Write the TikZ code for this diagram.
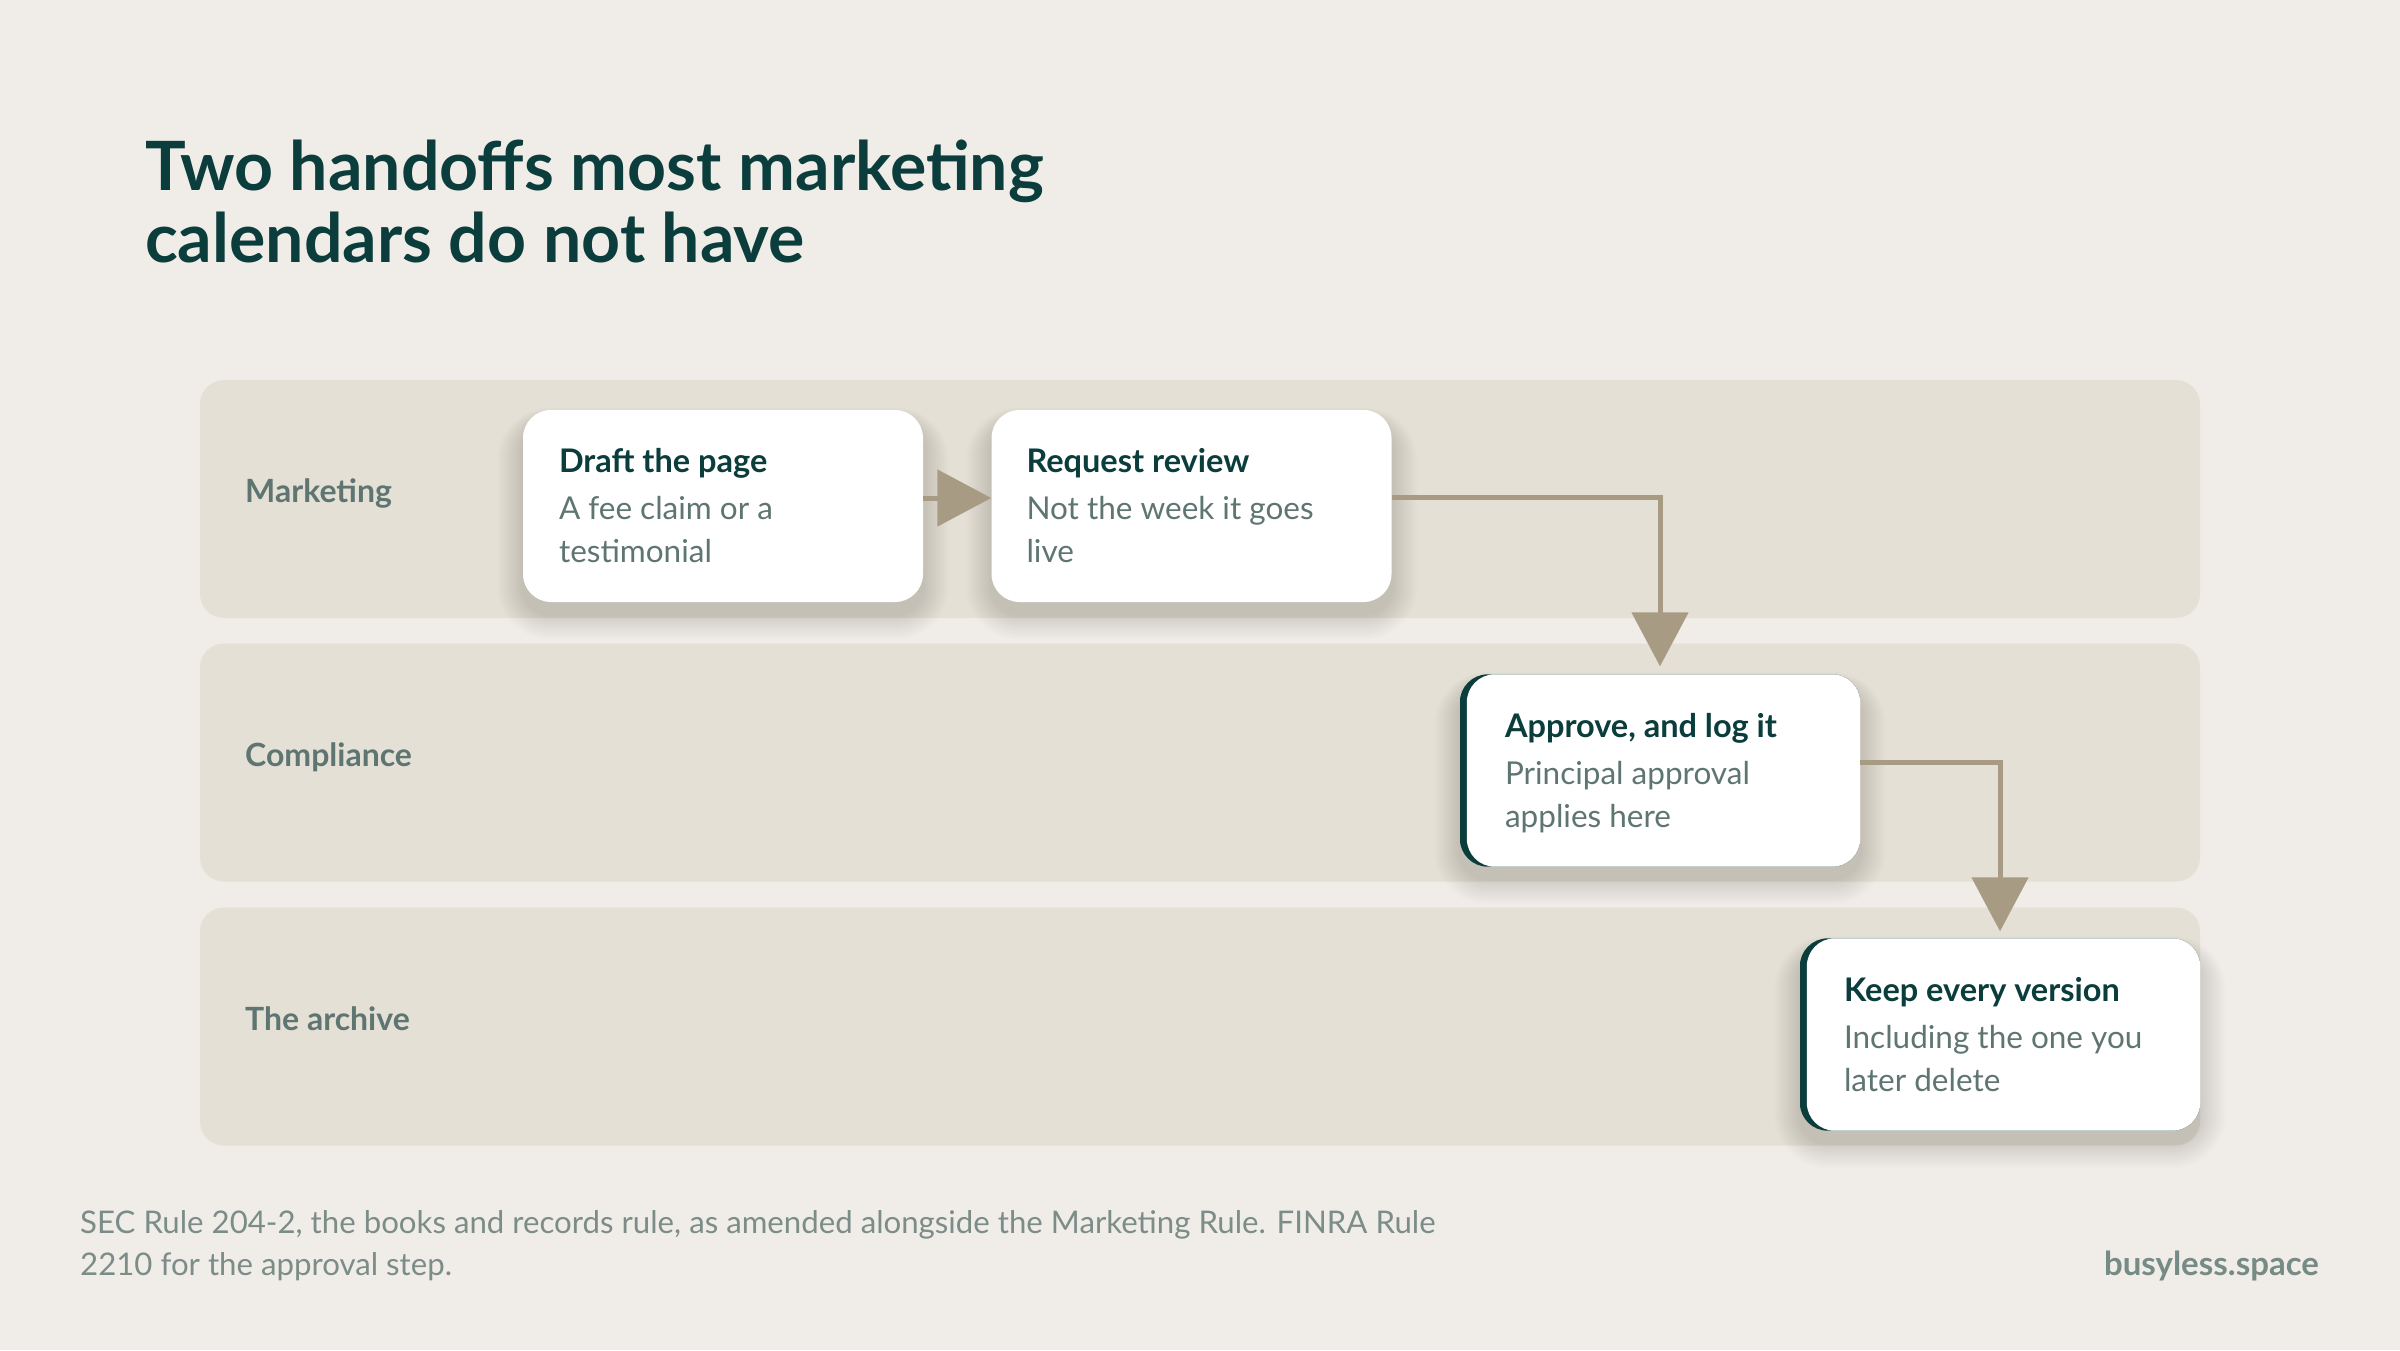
\documentclass[tikz,border=0pt]{standalone}
\usepackage{fontspec}
\setmainfont{Lato}
\usetikzlibrary{arrows.meta,calc}
\definecolor{bgc}{HTML}{F0EDE8}
\definecolor{lanec}{HTML}{E5E0D6}
\definecolor{ink}{HTML}{0A3D3B}
\definecolor{muted}{HTML}{5E7571}
\definecolor{footc}{HTML}{7B8C89}
\definecolor{arrowc}{HTML}{A89B83}
\pgfdeclarelayer{bg}
\pgfdeclarelayer{shadowlayer}
\pgfsetlayers{bg,shadowlayer,main}
\tikzset{
  lane/.style={rectangle, rounded corners=24pt, fill=lanec, minimum width=2000pt, minimum height=238pt, inner sep=0pt},
  lanelabel/.style={anchor=base west, inner sep=0pt, text=muted, font=\fontsize{32}{38}\selectfont\bfseries},
  card/.style={rectangle, rounded corners=28pt, fill=white, minimum width=400pt, minimum height=192pt, inner sep=0pt},
  ctitle/.style={anchor=base west, inner sep=0pt, text=ink, font=\fontsize{32.5}{38}\selectfont\bfseries},
  csub/.style={anchor=base west, inner sep=0pt, text=muted, font=\fontsize{31.5}{38}\selectfont},
  conn/.style={draw=arrowc, line width=5pt, -{Triangle[length=54pt,width=56pt]}},
  headline/.style={anchor=base west, inner sep=0pt, text=ink, font=\fontsize{68}{72}\selectfont\bfseries},
  foot/.style={anchor=base west, inner sep=0pt, text=footc, font=\fontsize{31.2}{36}\selectfont},
}
\newcommand{\softshadow}[1]{%
  \begin{pgfonlayer}{shadowlayer}
  \foreach \i in {1,...,16}{
    \fill[black, opacity=0.007, rounded corners={28pt+1.6*\i pt}]
      ($(#1.north west)+({-1.6*\i},{12-0.9*\i})$) rectangle ($(#1.south east)+({1.6*\i},{12+1.6*\i})$);
  }
  \end{pgfonlayer}}
\begin{document}
\begin{tikzpicture}[x=1pt,y=-1pt]
\begin{pgfonlayer}{bg}
\fill[bgc] (0,0) rectangle (2400,1350);
\end{pgfonlayer}
\useasboundingbox (0,0) rectangle (2400,1350);

% title
\node[headline] (t1) at (145,190) {Two handoffs most marketing};
\node[headline] (t2) at (145,262) {calendars do not have};

% lanes
\begin{pgfonlayer}{bg}
\node[lane] (L1) at (1200,499) {};
\node[lane] (L2) at (1200,762.5) {};
\node[lane] (L3) at (1200,1026.5) {};
\end{pgfonlayer}
\node[lanelabel] (l1) at (245,502) {Marketing};
\node[lanelabel] (l2) at (245,766) {Compliance};
\node[lanelabel] (l3) at (245,1030) {The archive};

% cards
\node[card] (c1) at (723,506) {};
\node[card] (c2) at (1191.5,506) {};
\node[card] (c3) at (1660,770.5) {};
\node[card] (c4) at (2000,1034.5) {};
\softshadow{c1}
\softshadow{c2}
\softshadow{c3}
\softshadow{c4}

% accent borders
\foreach \c in {c3,c4}{
  \begin{scope}
    \clip[rounded corners=28pt] (\c.north west) rectangle (\c.south east);
    \fill[ink] (\c.north west) rectangle (\c.south east);
    \fill[white, rounded corners=28pt] ($(\c.north west)+(7,0)$) rectangle ($(\c.south east)+(7,0)$);
  \end{scope}
}

% card texts
\node[ctitle] (c1t) at ($(c1.north west)+(36,63)$) {Draft the page};
\node[csub] (c1a) at ($(c1.north west)+(36,110)$) {A fee claim or a};
\node[csub] (c1b) at ($(c1.north west)+(36,153)$) {testimonial};

\node[ctitle] (c2t) at ($(c2.north west)+(35,63)$) {Request review};
\node[csub] (c2a) at ($(c2.north west)+(35,110)$) {Not the week it goes};
\node[csub] (c2b) at ($(c2.north west)+(35,153)$) {live};

\node[ctitle] (c3t) at ($(c3.north west)+(45,63)$) {Approve, and log it};
\node[csub] (c3a) at ($(c3.north west)+(45,110)$) {Principal approval};
\node[csub] (c3b) at ($(c3.north west)+(45,153)$) {applies here};

\node[ctitle] (c4t) at ($(c4.north west)+(44,63)$) {Keep every version};
\node[csub] (c4a) at ($(c4.north west)+(44,110)$) {Including the one you};
\node[csub] (c4b) at ($(c4.north west)+(44,153)$) {later delete};

% connectors
\draw[conn] ($(c1.east)+(0,-8)$) -- ($(c2.west)+(0,-8)$);
\draw[conn, shorten >=8pt] ($(c2.east)+(0,-9)$) -| (c3.north);
\draw[conn, shorten >=7pt] ($(c3.east)+(0,-8)$) -| (c4.north);

% footer
\node[foot] (f1) at (80,1233) {SEC Rule 204-2, the books and records rule, as amended alongside the Marketing Rule. FINRA Rule};
\node[foot] (f2) at (80,1275) {2210 for the approval step.};
\node[anchor=base east, inner sep=0pt, text=muted!85!white, font=\fontsize{33}{38}\selectfont\bfseries] (brand) at (2319,1275) {busyless.space};
\end{tikzpicture}
\end{document}
